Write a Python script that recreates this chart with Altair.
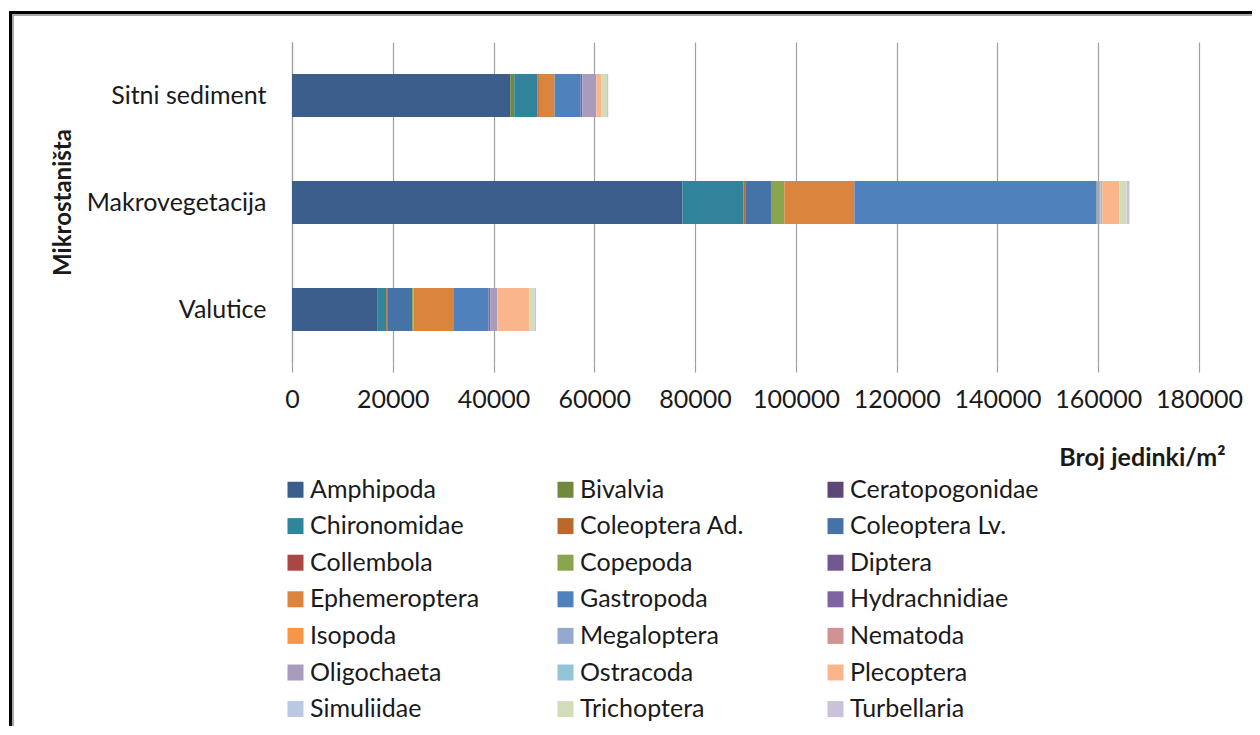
import altair as alt
import pandas as pd

sites = ["Sitni sediment", "Makrovegetacija", "Valutice"]

taxa = ["Amphipoda", "Bivalvia", "Ceratopogonidae", "Chironomidae", "Coleoptera Ad.",
        "Coleoptera Lv.", "Collembola", "Copepoda", "Diptera", "Ephemeroptera",
        "Gastropoda", "Hydrachnidiae", "Isopoda", "Megaloptera", "Nematoda",
        "Oligochaeta", "Ostracoda", "Plecoptera", "Simuliidae", "Trichoptera",
        "Turbellaria"]

colors = ["#3B5E8C", "#71893F", "#5C4776", "#31849B", "#B9692D",
          "#4572A7", "#AA4643", "#89A54E", "#71588F", "#DB843D",
          "#4F81BD", "#8064A2", "#F79646", "#93A9CF", "#D19392",
          "#A99BBD", "#92C5D5", "#FAB68A", "#B9C9E3", "#D0DDB8",
          "#CCC1DA"]

sitni = [43300, 800, 0, 4600, 300, 0, 0, 0, 0, 3100, 5200, 300, 0, 0, 0,
         2800, 0, 1000, 0, 1100, 250]
makro = [77500, 0, 0, 12100, 350, 5100, 0, 2650, 0, 13900, 48100, 0, 300, 300, 150,
         0, 350, 3400, 0, 1450, 550]
valutice = [16900, 0, 0, 1800, 330, 4800, 0, 270, 0, 7900, 7000, 330, 0, 0, 0,
            1400, 0, 6400, 0, 1000, 300]

x_ticks = [0, 20000, 40000, 60000, 80000, 100000, 120000, 140000, 160000, 180000]

rows = []
for site, vals in zip(sites, [sitni, makro, valutice]):
    for i, (t, v) in enumerate(zip(taxa, vals)):
        if v > 0:
            rows.append({"site": site, "taxon": t, "value": v, "ord": i})
df = pd.DataFrame(rows)

FONT = "Lato"
TXT = "#1a1a1a"

bars = alt.Chart(df).mark_bar(size=43).encode(
    x=alt.X("value:Q", stack="zero",
            scale=alt.Scale(domain=[0, 180000], nice=False),
            axis=alt.Axis(values=x_ticks, format="d", grid=True, gridColor="#a0a0a0",
                          gridWidth=1.2, domain=False, ticks=True, tickColor="#a0a0a0",
                          tickSize=9, tickWidth=1.2, labelFont=FONT, labelFontSize=25,
                          labelColor=TXT, labelPadding=15, labelOverlap=False,
                          labelFlush=False, labelBound=False,
                          title="Broj jedinki/m²", titleFont=FONT, titleFontSize=25,
                          titleFontWeight="bold", titleColor=TXT, titleX=933, titleY=102,
                          titleAlign="right", titleBaseline="alphabetic")),
    y=alt.Y("site:N", sort=sites,
            scale=alt.Scale(paddingInner=0.6, paddingOuter=0.3),
            axis=alt.Axis(domain=True, domainColor="#a0a0a0", domainWidth=1.2,
                          ticks=False, tickSize=0, grid=False, labelFont=FONT,
                          labelFontSize=25, labelColor=TXT, labelPadding=26,
                          title="Mikrostaništa", titleFont=FONT, titleFontSize=24,
                          titleFontWeight="bold", titleColor=TXT, titleAngle=270,
                          titleX=-229, titleY=160, titleAlign="center",
                          titleBaseline="middle")),
    color=alt.Color("taxon:N", scale=alt.Scale(domain=taxa, range=colors),
                    legend=alt.Legend(orient="none", legendX=-9, legendY=435,
                                      direction="horizontal",
                                      columns=3, title=None, symbolType="square",
                                      symbolSize=256, symbolStrokeWidth=0,
                                      labelFont=FONT, labelFontSize=25, labelColor=TXT,
                                      labelOffset=2, rowPadding=10.6, columnPadding=54,
                                      gridAlign="all", padding=0, labelLimit=400)),
    order=alt.Order("ord:Q", sort="ascending"),
)

frame_black = alt.Chart(alt.Data(values=[{}])).mark_rect(
    fill=None, stroke="#000000", strokeWidth=3
).encode(x=alt.value(-281.5), x2=alt.value(1000), y=alt.value(-29.5), y2=alt.value(800))

frame_grey = alt.Chart(alt.Data(values=[{}])).mark_rect(
    fill=None, stroke="#a8a8a8", strokeWidth=2
).encode(x=alt.value(-279), x2=alt.value(1000), y=alt.value(-27), y2=alt.value(800))

chart = alt.layer(bars, frame_grey, frame_black).properties(
    width=907, height=321,
    padding={"left": 284, "top": 34, "right": 53, "bottom": 363},
    autosize="none",
    background="white",
).configure_view(stroke=None)

chart.save("out.html", embed_options={"renderer": "svg", "actions": False})
